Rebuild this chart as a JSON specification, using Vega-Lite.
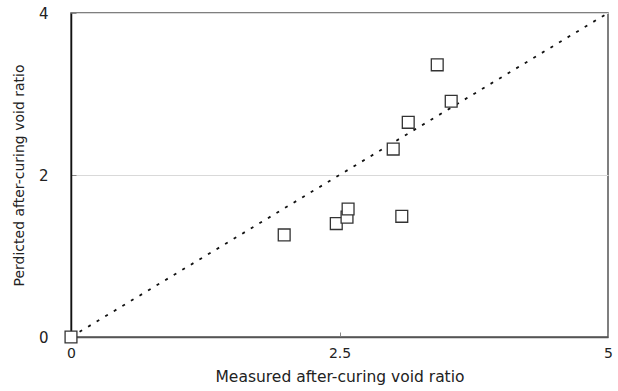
{
  "$schema": "https://vega.github.io/schema/vega-lite/v6.json",
  "autosize": "none",
  "width": 537,
  "height": 324,
  "padding": {"left": 71, "top": 13, "right": 10, "bottom": 54},
  "background": "white",
  "config": {
    "view": {"stroke": "#555555", "strokeWidth": 1.5},
    "font": "DejaVu Sans"
  },
  "datasets": {
    "pts": [
      {"measured": 0, "predicted": 0},
      {"measured": 1.985, "predicted": 1.26},
      {"measured": 2.47, "predicted": 1.40},
      {"measured": 2.57, "predicted": 1.48},
      {"measured": 2.58, "predicted": 1.58},
      {"measured": 3.08, "predicted": 1.49},
      {"measured": 3.00, "predicted": 2.32},
      {"measured": 3.14, "predicted": 2.65},
      {"measured": 3.41, "predicted": 3.36},
      {"measured": 3.54, "predicted": 2.91}
    ],
    "line": [
      {"measured": 0, "predicted": 0},
      {"measured": 5, "predicted": 4}
    ]
  },
  "encoding": {
    "x": {
      "field": "measured", "type": "quantitative",
      "scale": {"domain": [0, 5], "nice": false, "zero": true},
      "axis": {
        "values": [0, 2.5, 5], "grid": false, "labelExpr": "'' + datum.value",
        "title": "Measured after-curing void ratio",
        "titleFont": "DejaVu Sans", "titleFontSize": 15.5, "titleFontWeight": "normal",
        "titleColor": "#222222", "titlePadding": 0, "titleBaseline": "bottom", "titleY": 47,
        "labelFont": "DejaVu Sans", "labelFontSize": 14, "labelColor": "#222222",
        "labelPadding": 14, "tickSize": -5, "tickColor": "#888888",
        "domainColor": "#555555", "domainWidth": 1.5, "labelFlush": false
      }
    },
    "y": {
      "field": "predicted", "type": "quantitative",
      "scale": {"domain": [0, 4], "nice": false},
      "axis": {
        "values": [0, 2, 4], "grid": true, "gridColor": "#d9d9d9",
        "title": "Perdicted after-curing void ratio",
        "titleFont": "DejaVu Sans", "titleFontSize": 14, "titleFontWeight": "normal",
        "titleColor": "#222222", "titlePadding": 12,
        "labelFont": "DejaVu Sans", "labelFontSize": 15, "labelColor": "#222222",
        "labelPadding": 28, "tickSize": -5, "tickColor": "#888888",
        "domainColor": "#111111", "domainWidth": 1.5, "labelFlush": false
      }
    }
  },
  "layer": [
    {
      "data": {"name": "line"},
      "mark": {"type": "line", "color": "#111111", "strokeWidth": 1.8, "strokeDash": [3, 7]}
    },
    {
      "data": {"name": "pts"},
      "mark": {"type": "point", "shape": "square", "size": 140, "filled": false, "fill": "white", "fillOpacity": 1, "stroke": "#333333", "strokeWidth": 1.3, "opacity": 1}
    }
  ]
}
